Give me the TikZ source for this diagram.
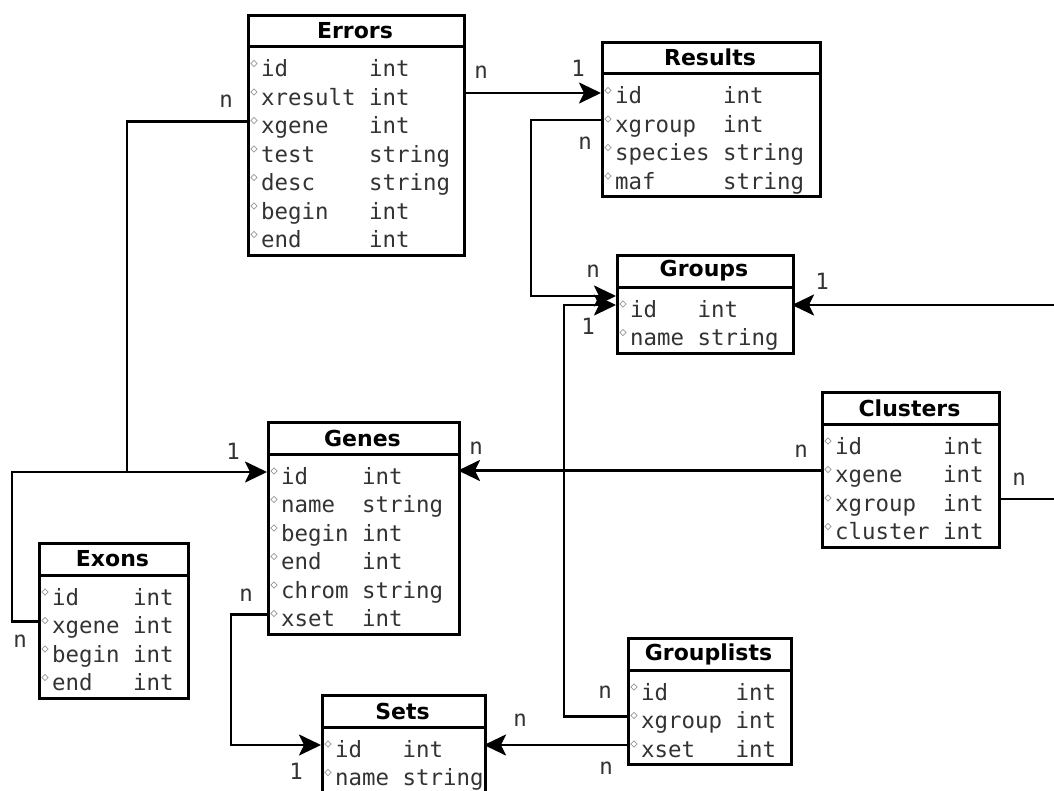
\documentclass[tikz,border=0pt]{standalone}
\usepackage{fontspec}
\setmainfont{DejaVu Sans}
\setsansfont{DejaVu Sans}
\setmonofont{DejaVu Sans Mono}
\usetikzlibrary{arrows.meta,shapes.geometric}
\tikzset{
  tbl/.style={draw=black,line width=3pt},
  fld/.style={inner sep=0pt,font=\fontsize{22.4}{24}\selectfont\ttfamily,text=black!80},
  ttl/.style={inner sep=0pt,font=\fontsize{22}{24}\selectfont\sffamily\bfseries},
  dmd/.style={diamond,draw=black!40,line width=0.7pt,inner sep=0pt,minimum size=6.5pt},
  lbl/.style={inner sep=0pt,font=\fontsize{22.4}{24}\selectfont\ttfamily,text=black!80},
  conn/.style={line width=2.6pt,draw=black},
  arr/.style={-{Stealth[length=22pt,width=21pt,inset=5pt]}}
}
% #1 id, #2 left, #3 right, #4 top, #5 title, #6 type column, #7 rows, #8 list
\newcommand\ertab[8]{%
  \pgfmathsetmacro\divy{#4+33}
  \pgfmathsetmacro\boty{#4+33+7.5+#7*28.5}
  \node[tbl,anchor=north west,minimum width={#3-#2},minimum height={\boty-#4},inner sep=0pt] (#1) at (#2,#4) {};
  \draw[tbl] (#2,\divy) -- (#3,\divy);
  \node[ttl] (#1-title) at ({(#2+#3)/2},#4+17) {#5};
  \foreach \colname/\coltype [count=\i] in {#8} {
    \pgfmathsetmacro\cy{#4+33+23+(\i-1)*28.5}
    \node[fld,anchor=base west] (#1-\i-n) at (#2+14,\cy+7) {\colname};
    \node[fld,anchor=base west] (#1-\i-t) at (#2+14+#6*13.5,\cy+7) {\coltype};
    \node[dmd] (#1-\i-d) at (#2+7,\cy-6) {};
    \coordinate (#1-\i-w) at (#2,\cy-5);
    \coordinate (#1-\i-e) at (#3,\cy-5);
  }
}
\begin{document}
\begin{tikzpicture}[x=1pt,y=-1pt]
\useasboundingbox (0,0) rectangle (1054,790);
\clip (0,0) rectangle (1054,790);
\fill[white] (0,0) rectangle (1054,790);

\ertab{errors}{247}{463}{13.5}{Errors}{8}{7}{id/int,xresult/int,xgene/int,test/string,desc/string,begin/int,end/int}
\ertab{results}{601}{819}{40.5}{Results}{8}{4}{id/int,xgroup/int,species/string,maf/string}
\ertab{groups}{616}{792}{254}{Groups}{5}{2}{id/int,name/string}
\ertab{genes}{267}{458}{421}{Genes}{6}{6}{id/int,name/string,begin/int,end/int,chrom/string,xset/int}
\ertab{exons}{38}{187}{542}{Exons}{6}{4}{id/int,xgene/int,begin/int,end/int}
\ertab{clusters}{821}{998}{391}{Clusters}{8}{4}{id/int,xgene/int,xgroup/int,cluster/int}
\ertab{grouplists}{627}{790}{637}{Grouplists}{7}{3}{id/int,xgroup/int,xset/int}
\ertab{sets}{321}{484}{694}{Sets}{5}{2}{id/int,name/string}

% junction coordinates
\coordinate (jx1) at (127,472);
\coordinate (jx2) at (12,472);
\coordinate (jx3) at (531,296);
\coordinate (jx4) at (564,305);
\coordinate (jx5) at (231,745);
\coordinate (rx) at (1062,499);

% connectors
\draw[conn,arr] (errors-2-e) -- (errors-2-e -| results-1-w);
\draw[conn,arr] (errors-3-w) -| (jx1) -- (genes-1-w);
\draw[conn] (exons-2-w) -| (jx2) -- (jx1);
\draw[conn,arr] (results-2-w) -| (jx3) -- (jx3 -| groups-1-w);
\draw[conn,arr] (grouplists-2-w) -| (jx4) -- (groups-1-w);
\draw[conn,arr] (clusters-2-w) -- (clusters-2-w -| genes-1-e);
\draw[conn,arr] (clusters-3-e) -- (clusters-3-e -| rx) |- (groups-1-e);
\draw[conn,arr] (genes-6-w) -| (jx5) -- (sets-1-w);
\draw[conn,arr] (grouplists-3-w) -- (sets-1-e);

% cardinality labels
\node[lbl] (l1) at (481,72) {n};
\node[lbl] (l2) at (578,68) {1};
\node[lbl] (l3) at (226,101) {n};
\node[lbl] (l4) at (233,451) {1};
\node[lbl] (l5) at (20,641) {n};
\node[lbl] (l6) at (585,143) {n};
\node[lbl] (l7) at (593,271) {n};
\node[lbl] (l8) at (588,326) {1};
\node[lbl] (l9) at (822,281) {1};
\node[lbl] (l10) at (801,451) {n};
\node[lbl] (l11) at (476,448) {n};
\node[lbl] (l12) at (1019,479) {n};
\node[lbl] (l13) at (246,595) {n};
\node[lbl] (l14) at (296,771) {1};
\node[lbl] (l15) at (520,720) {n};
\node[lbl] (l16) at (606,768) {n};
\node[lbl] (l17) at (605,692) {n};
\end{tikzpicture}
\end{document}
